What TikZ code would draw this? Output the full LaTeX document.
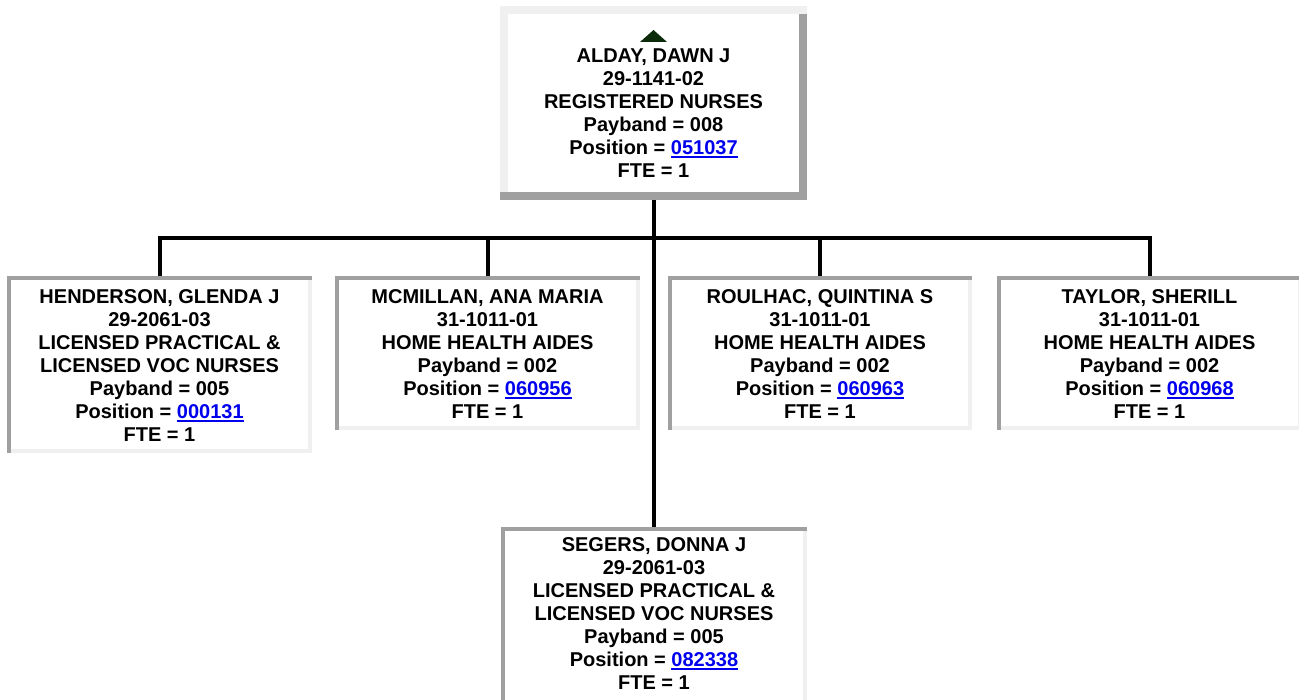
\documentclass[tikz,border=0pt]{standalone}
\usepackage{fontspec}
\setmainfont{Liberation Sans}
\definecolor{dk}{HTML}{A0A0A0}
\definecolor{lt}{HTML}{F0F0F0}
\definecolor{lnkblue}{HTML}{0000EE}
\definecolor{trigreen}{HTML}{0B2B0B}
\newcommand\lnk[1]{{\color{lnkblue}\setbox0\hbox{#1}\rlap{\rule[-3.3pt]{\wd0}{2pt}}\box0}}
\newcommand\outsetframe[2]{%
  \fill[lt] (#1.north west) rectangle ([yshift=-#2]#1.north east);
  \fill[lt] (#1.north west) rectangle ([xshift=#2]#1.south west);
  \fill[dk] ([yshift=-#2]#1.north east) rectangle ([xshift=-#2]#1.south east);
  \fill[dk] (#1.south west) rectangle ([yshift=#2]#1.south east);
}
\newcommand\insetframe[2]{%
  \fill[lt] (#1.south west) rectangle ([yshift=#2]#1.south east);
  \fill[lt] (#1.north east) rectangle ([xshift=-#2]#1.south east);
  \fill[dk] (#1.north west) rectangle ([yshift=-#2]#1.north east);
  \fill[dk] (#1.north west) rectangle ([xshift=#2]#1.south west);
}
\tikzset{
  boxnode/.style={rectangle, inner sep=0pt, outer sep=0pt, anchor=north west},
  txt/.style={inner sep=0pt, outer sep=0pt, anchor=north, align=center, text=black,
    font=\fontsize{20}{23}\selectfont\bfseries},
  conn/.style={line width=4pt, black},
}
\begin{document}
\begin{tikzpicture}[x=1pt,y=-1pt]
\useasboundingbox (0,0) rectangle (1299,700);
\fill[white] (0,0) rectangle (1299,700);

% boxes
\node[boxnode, minimum width=307pt, minimum height=194pt] (root) at (500,6) {};
\node[boxnode, minimum width=305pt, minimum height=177pt] (hen) at (7,276) {};
\node[boxnode, minimum width=305pt, minimum height=154pt] (mcm) at (335,276) {};
\node[boxnode, minimum width=304pt, minimum height=154pt] (rou) at (668,276) {};
\node[boxnode, minimum width=305pt, minimum height=154pt] (tay) at (997,276) {};
\node[boxnode, minimum width=306pt, minimum height=200pt] (seg) at (501,527) {};

% connectors
\coordinate (bus) at (653.5,238);
\draw[conn] (root.south -| bus) -- (seg.north -| bus);
\draw[conn] (hen.north) -- (hen.north |- bus) -- (tay.north |- bus) -- (tay.north);
\draw[conn] (mcm.north) -- (mcm.north |- bus);
\draw[conn] (rou.north) -- (rou.north |- bus);

% frames
\outsetframe{root}{8pt}
\insetframe{hen}{4pt}
\insetframe{mcm}{4pt}
\insetframe{rou}{4pt}
\insetframe{tay}{4pt}
\insetframe{seg}{4pt}

% up-arrow icon
\fill[trigreen] (640,42) -- (653.5,30) -- (667,42) -- cycle;

% texts
\node[txt] (rootT) at ([yshift=-43pt]root.north)
  {ALDAY, DAWN J\\29-1141-02\\REGISTERED NURSES\\Payband = 008\\Position = \lnk{051037}\\FTE = 1};
\node[txt] (henT) at ([yshift=-14pt]hen.north)
  {HENDERSON, GLENDA J\\29-2061-03\\LICENSED PRACTICAL \&\\LICENSED VOC NURSES\\Payband = 005\\Position = \lnk{000131}\\FTE = 1};
\node[txt] (mcmT) at ([yshift=-13.5pt]mcm.north)
  {MCMILLAN, ANA MARIA\\31-1011-01\\HOME HEALTH AIDES\\Payband = 002\\Position = \lnk{060956}\\FTE = 1};
\node[txt] (rouT) at ([yshift=-13.5pt]rou.north)
  {ROULHAC, QUINTINA S\\31-1011-01\\HOME HEALTH AIDES\\Payband = 002\\Position = \lnk{060963}\\FTE = 1};
\node[txt] (tayT) at ([yshift=-13.5pt]tay.north)
  {TAYLOR, SHERILL\\31-1011-01\\HOME HEALTH AIDES\\Payband = 002\\Position = \lnk{060968}\\FTE = 1};
\node[txt] (segT) at ([yshift=-11pt]seg.north)
  {SEGERS, DONNA J\\29-2061-03\\LICENSED PRACTICAL \&\\LICENSED VOC NURSES\\Payband = 005\\Position = \lnk{082338}\\FTE = 1};
\end{tikzpicture}
\end{document}
